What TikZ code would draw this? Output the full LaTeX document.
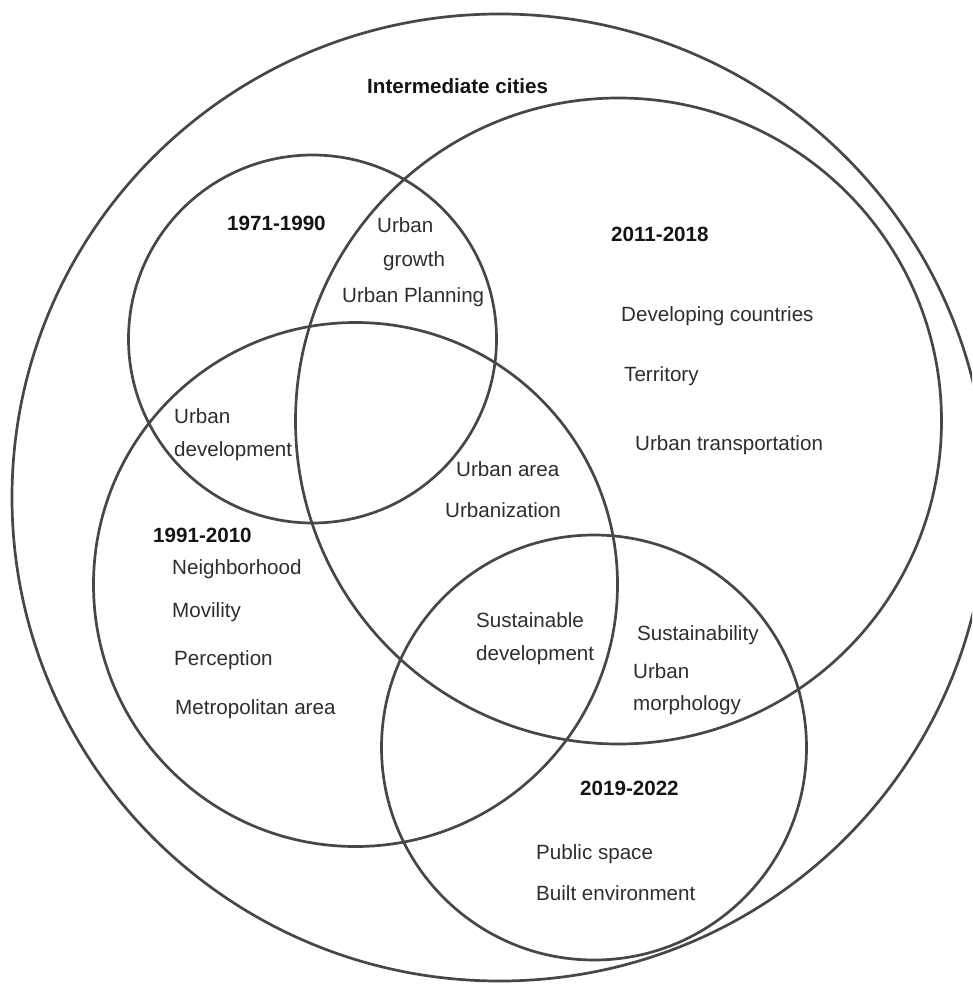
\documentclass[tikz,border=0pt]{standalone}
\usepackage{fontspec}
\setmainfont{Liberation Sans}
\tikzset{
  ring/.style={draw=black!72, line width=2.7pt},
  lbl/.style={anchor=base west, inner sep=0pt, text=black!82, font=\fontsize{20.6}{24}\selectfont},
  hdr/.style={anchor=base west, inner sep=0pt, text=black!92, font=\fontsize{20.6}{24}\selectfont\bfseries},
}
\begin{document}
\begin{tikzpicture}[x=1pt,y=-1pt]
\useasboundingbox (0,0) rectangle (972,984);
\fill[white] (0,0) rectangle (972,984);
\clip (0,0) rectangle (972,984);
% circles
\draw[ring] (499.5,497.5) ellipse [x radius=487.5, y radius=483.5];
\draw[ring] (618.5,421) circle [radius=323];
\draw[ring] (312.5,339) circle [radius=184];
\draw[ring] (355.5,584.5) circle [radius=262];
\draw[ring] (594,747.5) circle [radius=212.5];
% labels
\node[hdr] (tic) at (367,94) {Intermediate cities};
\node[hdr] (t71) at (227,230) {1971-1990};
\node[lbl] (ug1) at (377,233) {Urban};
\node[lbl] (ug2) at (383,266) {growth};
\node[lbl] (up) at (342,302) {Urban Planning};
\node[hdr] (t11) at (611,241) {2011-2018};
\node[lbl] (dc) at (621,321) {Developing countries};
\node[lbl] (ter) at (624,381) {Territory};
\node[lbl] (utr) at (635,450) {Urban transportation};
\node[lbl] (ud1) at (174,423.5) {Urban};
\node[lbl] (ud2) at (174,456) {development};
\node[lbl] (ua) at (456,476) {Urban area};
\node[lbl] (uz) at (445,517.5) {Urbanization};
\node[hdr] (t91) at (153,542.5) {1991-2010};
\node[lbl] (nb) at (172,574) {Neighborhood};
\node[lbl] (mv) at (172,617) {Movility};
\node[lbl] (pc) at (174,665) {Perception};
\node[lbl] (ma) at (175,714.5) {Metropolitan area};
\node[lbl] (sd1) at (476,627.5) {Sustainable};
\node[lbl] (sd2) at (476,660) {development};
\node[lbl] (sy) at (637,640) {Sustainability};
\node[lbl] (um1) at (633,678) {Urban};
\node[lbl] (um2) at (633,710) {morphology};
\node[hdr] (t19) at (580,795) {2019-2022};
\node[lbl] (ps) at (536,859) {Public space};
\node[lbl] (be) at (536,900) {Built environment};
\end{tikzpicture}
\end{document}
